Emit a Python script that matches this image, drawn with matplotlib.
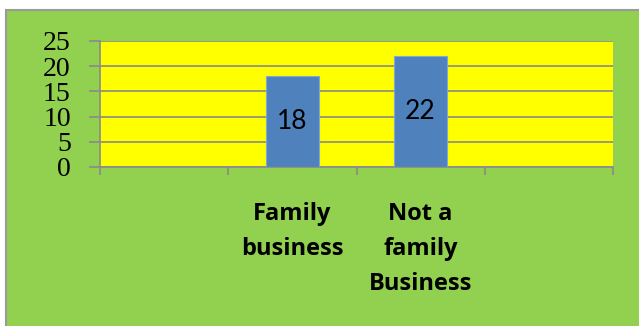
import matplotlib
matplotlib.use("Agg")
import matplotlib.pyplot as plt
from matplotlib.patches import Rectangle
import numpy as np

# Data
categories = ["Family\nbusiness", "Not a\nfamily\nBusiness"]
values = [18, 22]
positions = [1, 2]          # slots 0 and 3 are empty category slots
y_ticks = [0, 5, 10, 15, 20, 25]

W, H = 639, 326
fig = plt.figure(figsize=(W / 100, H / 100), dpi=100)
fig.patch.set_facecolor("white")

# Green chart area with gray border
fig.patches.append(Rectangle((5.5 / W, -0.05), 1.1, (H - 9.5) / H + 0.05,
                             transform=fig.transFigure, facecolor="#92D050",
                             edgecolor="#9a9a9a", linewidth=1.5, zorder=-10))

ax = fig.add_axes([100 / W, (H - 167) / H, 513 / W, 126 / H])
ax.set_zorder(5)
ax.set_facecolor("#FFFF00")

bars = ax.bar(positions, values, width=0.41, color="#4F81BD",
              edgecolor="#7FA6D6", linewidth=0.8, zorder=3)
for b, v in zip(bars, values):
    ax.text(b.get_x() + b.get_width() / 2, v / 2, str(v), ha="center",
            va="center", fontsize=19, family="Lato", color="black", zorder=4)

ax.set_xlim(-0.5, 3.5)
ax.set_ylim(0, 25)
ax.set_yticks(y_ticks)
ax.set_yticklabels([str(t) for t in y_ticks], family="Liberation Serif",
                   fontsize=20)
ax.yaxis.grid(True, color="#8a8a8a", linewidth=1.2, zorder=1)
ax.set_axisbelow(True)

ax.set_xticks(positions)
ax.set_xticklabels(categories, family="Open Sans", fontweight="bold",
                   fontsize=17, linespacing=1.62, va="top")
ax.set_xticks(np.arange(-0.5, 4.0, 1.0), minor=True)
ax.tick_params(axis="x", which="major", length=0, pad=25)
ax.tick_params(axis="x", which="minor", length=6, width=1.2, color="#8a8a8a",
               direction="out")
ax.tick_params(axis="y", length=8, width=1.2, color="#8a8a8a", pad=13)

for s in ["top", "right"]:
    ax.spines[s].set_visible(False)
for s in ["left", "bottom"]:
    ax.spines[s].set_color("#8a8a8a")
    ax.spines[s].set_linewidth(1.2)

fig.savefig("out.png", dpi=100, facecolor=fig.get_facecolor())
